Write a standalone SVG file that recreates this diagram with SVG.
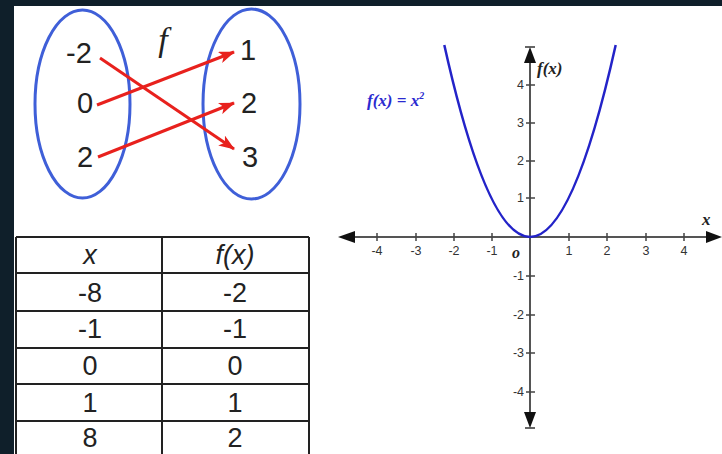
<svg xmlns="http://www.w3.org/2000/svg" width="722" height="454" viewBox="0 0 722 454">
<style>
.bg{fill:#0f1f2a}
.panel{fill:#ffffff}
.set{fill:none;stroke:#3f5fd8;stroke-width:3}
.num{font-family:"Liberation Sans",Arial,sans-serif;font-size:29px;fill:#222;text-anchor:middle}
.map{stroke:#e8211d;stroke-width:3;fill:none;marker-end:url(#ah)}
.tbl{fill:none;stroke:#222;stroke-width:2}
.tnum{font-family:"Liberation Sans",Arial,sans-serif;font-size:27px;fill:#222;text-anchor:middle}
.it{font-style:italic}
.axis{stroke:#555;stroke-width:2;fill:none}
.tick{stroke:#444;stroke-width:1.5}
.tl{font-family:"Liberation Sans",Arial,sans-serif;font-size:12.5px;fill:#333;text-anchor:middle}
.yl{font-family:"Liberation Sans",Arial,sans-serif;font-size:12.5px;fill:#333;text-anchor:end}
.serif{font-family:"Liberation Serif","DejaVu Serif","Times New Roman",serif;font-style:italic;font-weight:bold}
.fser{font-family:"Liberation Serif","DejaVu Serif","Times New Roman",serif;font-style:italic}
</style>
<defs>
<marker id="ah" viewBox="0 0 16 12" refX="15" refY="6" markerWidth="16" markerHeight="12" markerUnits="userSpaceOnUse" orient="auto">
<path d="M0,0 L16,6 L0,12 L4,6 z" fill="#e8211d"/>
</marker>
</defs>
<rect class="bg" x="0" y="0" width="722" height="454"/>
<rect class="panel" x="14" y="6" width="708" height="448"/>

<g id="domain">
<ellipse class="set" cx="82.5" cy="104" rx="47.5" ry="94"/>
<text class="num" x="79" y="63">-2</text>
<text class="num" x="85" y="113">0</text>
<text class="num" x="85" y="167">2</text>
</g>
<g id="codomain">
<ellipse class="set" cx="251.5" cy="104" rx="48.5" ry="95"/>
<text class="num" x="248" y="60">1</text>
<text class="num" x="249" y="113">2</text>
<text class="num" x="250" y="167">3</text>
</g>
<g id="f-label">
<text class="fser" x="163" y="51" font-size="34" fill="#222" text-anchor="middle">f</text>
</g>
<g id="connectors">
<line class="map" x1="100" y1="58" x2="234" y2="149"/>
<line class="map" x1="97" y1="105" x2="234" y2="52"/>
<line class="map" x1="98" y1="157" x2="234" y2="103"/>
</g>

<g id="table">
<rect x="16" y="237" width="293" height="230" fill="#fff"/>
<path class="tbl" d="M16,237 H309 M16,273 H309 M16,311 H309 M16,348 H309 M16,384 H309 M16,421 H309 M16,237 V454 M162,237 V454 M309,237 V454"/>
<text class="tnum it" x="90" y="264">x</text>
<text class="tnum it" x="235" y="264">f(x)</text>
<text class="tnum" x="90" y="302">-8</text>
<text class="tnum" x="235" y="302">-2</text>
<text class="tnum" x="90" y="338">-1</text>
<text class="tnum" x="235" y="338">-1</text>
<text class="tnum" x="90" y="375">0</text>
<text class="tnum" x="235" y="375">0</text>
<text class="tnum" x="90" y="412">1</text>
<text class="tnum" x="235" y="412">1</text>
<text class="tnum" x="90" y="447">8</text>
<text class="tnum" x="235" y="447">2</text>
</g>

<g id="graph">
<line class="axis" x1="350" y1="237" x2="712" y2="237"/>
<line class="axis" x1="530" y1="58" x2="530" y2="416"/>
<polygon points="338,237 355,231 355,243" fill="#111"/>
<polygon points="722,237 706,231 706,243" fill="#111"/>
<polygon points="530,47 524,63 536,63" fill="#111"/>
<line x1="525" y1="47" x2="535" y2="47" stroke="#333" stroke-width="1.5"/>
<polygon points="530,428 524,412 536,412" fill="#111"/>
<line x1="525" y1="428" x2="535" y2="428" stroke="#333" stroke-width="1.5"/>
<path class="tick" d="M377,233 V241 M416,233 V241 M454,233 V241 M492,233 V241 M569,233 V241 M607,233 V241 M646,233 V241 M684,233 V241 M526,85 H535 M526,123 H535 M526,161 H535 M526,198 H535 M526,276 H535 M526,315 H535 M526,353 H535 M526,392 H535"/>
<text class="tl" x="377" y="255">-4</text>
<text class="tl" x="416" y="255">-3</text>
<text class="tl" x="454" y="255">-2</text>
<text class="tl" x="492" y="255">-1</text>
<text class="tl" x="569" y="255">1</text>
<text class="tl" x="607" y="255">2</text>
<text class="tl" x="646" y="255">3</text>
<text class="tl" x="684" y="255">4</text>
<text class="yl" x="524" y="89">4</text>
<text class="yl" x="524" y="127">3</text>
<text class="yl" x="524" y="165">2</text>
<text class="yl" x="524" y="202">1</text>
<text class="yl" x="524" y="280">-1</text>
<text class="yl" x="524" y="319">-2</text>
<text class="yl" x="524" y="357">-3</text>
<text class="yl" x="524" y="396">-4</text>
<text class="serif" x="512" y="258" font-size="16" fill="#222">o</text>
<text class="serif" x="702" y="225" font-size="17" fill="#222">x</text>
<text class="serif" x="537" y="74" font-size="17" fill="#222">f(x)</text>
<text class="serif" x="367" y="106" font-size="17" fill="#2a2ad0">f(x) = x<tspan dy="-7" font-size="10">2</tspan></text>
<path d="M444.3,45 Q530,429 615.7,45" fill="none" stroke="#2323c8" stroke-width="2.5"/>
</g>
</svg>
